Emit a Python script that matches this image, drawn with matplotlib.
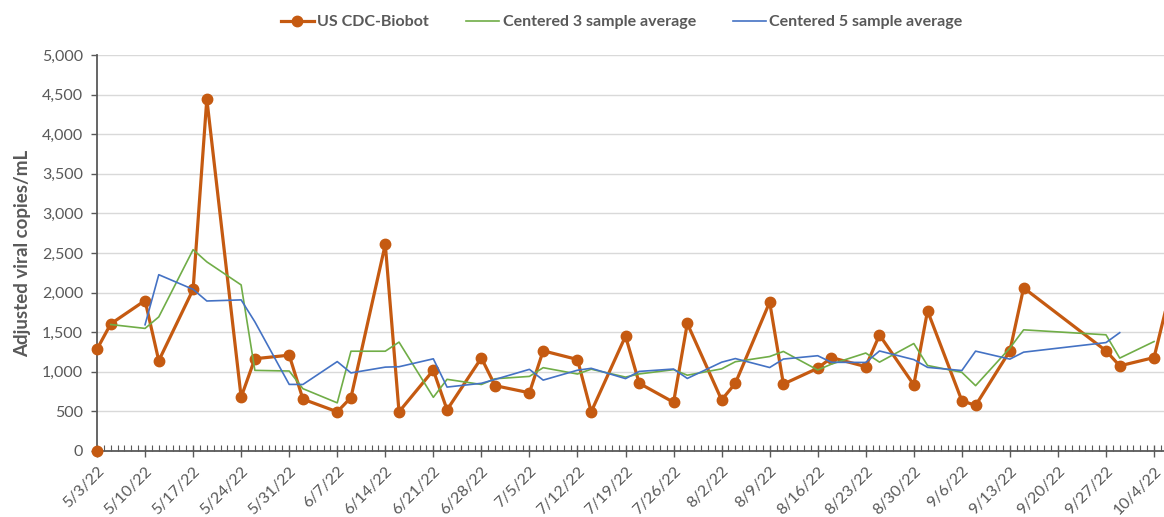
import matplotlib
matplotlib.use('Agg')
import matplotlib.pyplot as plt
import matplotlib.dates as mdates
from matplotlib.ticker import FuncFormatter
from datetime import datetime, timedelta

# Sample dates (Tue/Thu) and values
sample_dates = ['2022-05-03', '2022-05-05', '2022-05-10', '2022-05-12', '2022-05-17', '2022-05-19',
                '2022-05-24', '2022-05-26', '2022-05-31', '2022-06-02', '2022-06-07', '2022-06-09',
                '2022-06-14', '2022-06-16', '2022-06-21', '2022-06-23', '2022-06-28', '2022-06-30',
                '2022-07-05', '2022-07-07', '2022-07-12', '2022-07-14', '2022-07-19', '2022-07-21',
                '2022-07-26', '2022-07-28', '2022-08-02', '2022-08-04', '2022-08-09', '2022-08-11',
                '2022-08-16', '2022-08-18', '2022-08-23', '2022-08-25', '2022-08-30', '2022-09-01',
                '2022-09-06', '2022-09-08', '2022-09-13', '2022-09-15', '2022-09-27', '2022-09-29',
                '2022-10-04', '2022-10-06']
biobot = [1285, 1605, 1900, 1140, 2040, 4445, 680, 1165, 1210, 655, 495, 675,
          2610, 495, 1020, 520, 1175, 825, 735, 1265, 1155, 495, 1450, 855,
          615, 1610, 645, 855, 1880, 845, 1045, 1180, 1065, 1465, 835, 1770,
          635, 575, 1265, 2060, 1265, 1075, 1180, 1890]

# stray zero point plotted at the first date
zero_date = ['2022-05-03']
zero_value = [0]

# centered 3 sample average (2nd .. 2nd-to-last sample)
avg3 = [1597, 1548, 1693, 2542, 2388, 2097, 1018, 1010, 787, 608, 1260, 1260,
        1375, 678, 905, 840, 912, 942, 1052, 972, 1033, 933, 973, 1027,
        957, 1037, 1127, 1193, 1257, 1023, 1097, 1237, 1122, 1357, 1080, 993,
        825, 1300, 1530, 1467, 1173, 1382]

# centered 5 sample average (3rd .. 3rd-to-last sample)
avg5 = [1594, 2226, 2041, 1894, 1908, 1631, 841, 840, 1129, 986, 1059, 1064,
        1164, 807, 855, 904, 1031, 895, 1020, 1044, 914, 1005, 1035, 916,
        1121, 1167, 1054, 1161, 1203, 1120, 1118, 1263, 1154, 1056, 1016, 1261,
        1160, 1248, 1369, 1494]

series_labels = ['US CDC-Biobot', 'Centered 3 sample average', 'Centered 5 sample average']


def to_dt(s):
    return [datetime.strptime(d, '%Y-%m-%d') for d in s]


dates = to_dt(sample_dates)

plt.rcParams['font.family'] = ['Lato', 'DejaVu Sans']
grey = '#595959'

fig = plt.figure(figsize=(11.64, 5.17), dpi=100)
ax = fig.add_axes([97 / 1164, 66 / 517, 1067 / 1164, 396 / 517])

# last sample sits just past the visible range; only its line segment shows
ax.plot(dates, biobot, '-o', color='#C55A11', lw=2.3, ms=7.5, clip_on=False,
        markevery=slice(0, len(dates) - 1), label=series_labels[0], zorder=3)
ax.plot(to_dt(zero_date), zero_value, 'o', color='#C55A11', ms=7.5, clip_on=False, zorder=3)
ax.plot(dates[1:-1], avg3, color='#70AD47', lw=1.2, label=series_labels[1], zorder=4)
ax.plot(dates[2:-2], avg5, color='#4472C4', lw=1.2, label=series_labels[2], zorder=5)

start = dates[0]
ax.set_xlim(start, start + timedelta(days=155.45))
ax.set_ylim(0, 5000)
ax.set_yticks(range(0, 5001, 500))
ax.yaxis.set_major_formatter(FuncFormatter(lambda v, p: f'{int(v):,}'))
ax.grid(axis='y', color='#D9D9D9', lw=1)
ax.set_axisbelow(True)

ax.xaxis.set_major_locator(mdates.WeekdayLocator(byweekday=mdates.TU))
ax.xaxis.set_minor_locator(mdates.DayLocator())
ax.xaxis.set_major_formatter(FuncFormatter(
    lambda v, p: (lambda d: f'{d.month}/{d.day}/{d.year % 100}')(mdates.num2date(v))))

for s in ['top', 'right']:
    ax.spines[s].set_visible(False)
for s in ['left', 'bottom']:
    ax.spines[s].set_color(grey)
    ax.spines[s].set_linewidth(1.3)

ax.tick_params(axis='y', colors=grey, labelsize=11.5, length=4, width=1, direction='out', pad=6)
ax.tick_params(axis='x', which='major', colors=grey, labelsize=11.5, length=9, width=1,
               direction='inout', pad=5)
ax.tick_params(axis='x', which='minor', colors=grey, length=4, width=0.8, direction='in')
for lbl in ax.get_xticklabels():
    lbl.set_rotation(45)
    lbl.set_ha('right')
    lbl.set_rotation_mode('anchor')

ax.set_ylabel('Adjusted viral copies/mL', fontsize=13.5, fontweight='bold', color=grey, labelpad=8)

leg = fig.legend(loc='center', bbox_to_anchor=(0.534, 0.957), ncol=3, frameon=False,
                 fontsize=11.5, handlelength=2.1, columnspacing=2.3, handletextpad=0.2)
for t in leg.get_texts():
    t.set_color(grey)
    t.set_fontweight('bold')

fig.savefig('out.png', dpi=100)
